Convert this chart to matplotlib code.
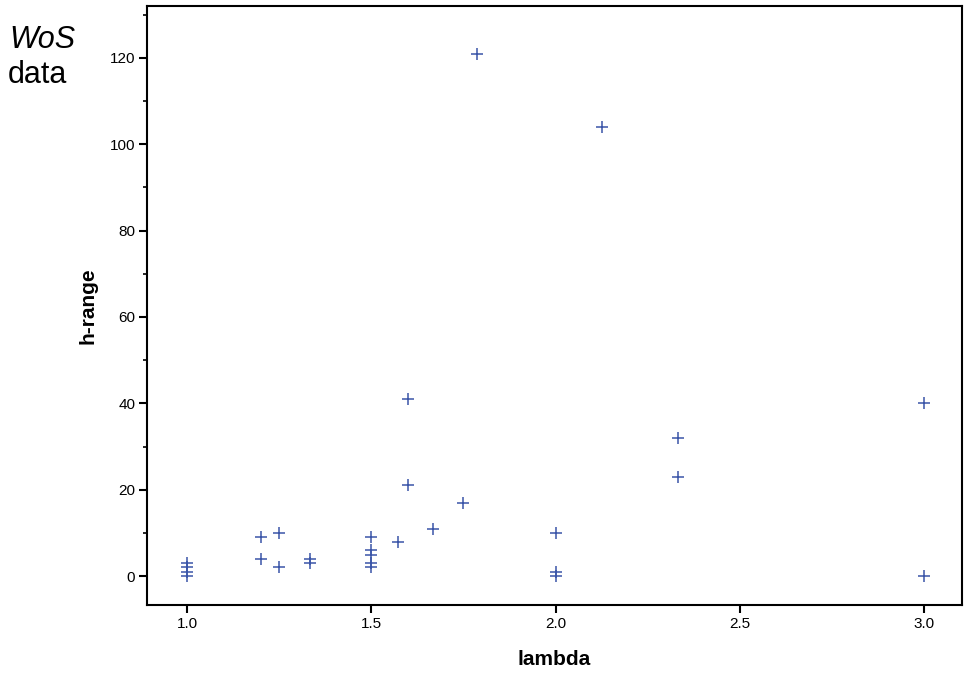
import matplotlib
matplotlib.use("Agg")
import matplotlib.pyplot as plt
from matplotlib.ticker import MultipleLocator

plt.rcParams['font.family'] = ['Liberation Sans', 'DejaVu Sans']

# lambda vs h-range (WoS data)
lam = [1.0, 1.0, 1.0, 1.0,
       1.2, 1.2, 1.25, 1.25, 1.3333, 1.3333,
       1.5, 1.5, 1.5, 1.5, 1.5,
       1.5714, 1.6, 1.6, 1.6667, 1.75, 1.7857,
       2.0, 2.0, 2.0, 2.125, 2.3333, 2.3333,
       3.0, 3.0]
hrange = [0, 1, 2, 3,
          9, 4, 10, 2, 4, 3,
          9, 6, 5, 3, 2,
          8, 41, 21, 11, 17, 121,
          10, 1, 0, 104, 32, 23,
          40, 0]

fig = plt.figure(figsize=(9.69, 6.73), dpi=100)
ax = fig.add_axes([0.1517, 0.101, 0.841, 0.890])

ax.plot(lam, hrange, linestyle='none', marker='+', markersize=8,
        markeredgewidth=1.1, color='#3a55a8')

ax.set_xlim(0.891, 3.103)
ax.set_ylim(-6.7, 132)
ax.set_xticks([1.0, 1.5, 2.0, 2.5, 3.0])
ax.set_xticklabels(['1.0', '1.5', '2.0', '2.5', '3.0'])
ax.set_yticks(range(0, 121, 20))
ax.yaxis.set_minor_locator(MultipleLocator(10))

for s in ax.spines.values():
    s.set_linewidth(1.5)
ax.tick_params(axis='both', which='major', direction='out', length=5.5, width=1.5,
               labelsize=11, pad=3)
ax.tick_params(axis='y', which='minor', direction='out', length=3, width=1.2)

ax.set_xlabel('lambda', fontsize=15, fontweight='bold', labelpad=14)
ax.set_ylabel('h-range', fontsize=15, fontweight='bold', labelpad=9)

fig.text(0.010, 0.940, 'WoS', fontsize=22, style='italic', ha='left', va='center')
fig.text(0.008, 0.888, 'data', fontsize=22, ha='left', va='center')

fig.savefig('out.png', dpi=100)
